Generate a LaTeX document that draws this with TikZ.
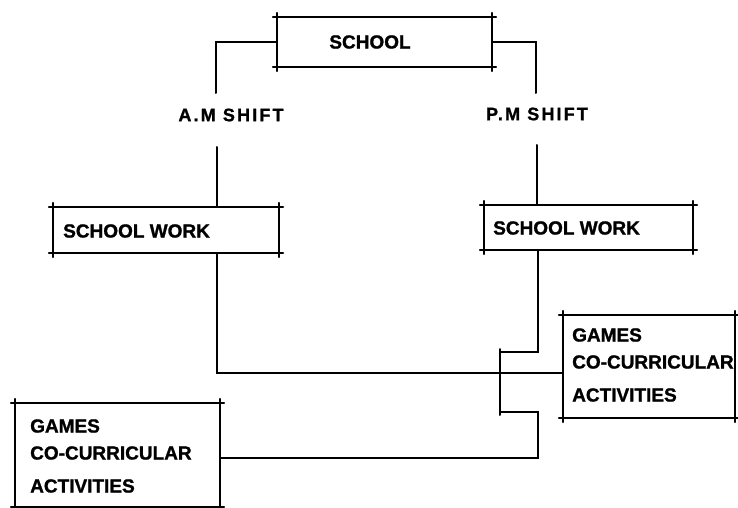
\documentclass[tikz,border=0pt]{standalone}
\usepackage{fontspec}
\setmainfont{Liberation Sans}[BoldFeatures={FakeBold=1.2}]
\newcommand\tickframe[1]{%
  \draw[edge] ([xshift=-4pt]#1.north west) -- ([xshift=4pt]#1.north east);
  \draw[edge] ([xshift=-4pt]#1.south west) -- ([xshift=4pt]#1.south east);
  \draw[edge] ([yshift=4pt]#1.north west) -- ([yshift=-4pt]#1.south west);
  \draw[edge] ([yshift=4pt]#1.north east) -- ([yshift=-4pt]#1.south east);
}
\begin{document}
\begin{tikzpicture}[x=1pt,y=-1pt,
  edge/.style={line width=2pt, line cap=round},
  over/.style={edge, shorten <=-3pt, shorten >=-3pt},
  frame/.style={rectangle, draw=none, inner sep=0pt},
  lbl/.style={font=\bfseries\fontsize{19}{27}\selectfont, inner sep=0pt, align=left},
  spaced/.style={font=\bfseries\fontsize{18}{22}\selectfont\addfontfeature{LetterSpace=12}, inner sep=0pt},
]
\useasboundingbox (0,0) rectangle (738,508);
\clip (0,0) rectangle (738,508);

% box outlines
\node[frame, minimum width=215pt, minimum height=50pt] (school) at (384.5,42) {};
\node[frame, minimum width=226pt, minimum height=46pt] (sw1) at (166,230) {};
\node[frame, minimum width=209pt, minimum height=45pt] (sw2) at (588.5,227.5) {};
\node[frame, minimum width=172pt, minimum height=103pt] (g1) at (649,366.5) {};
\node[frame, minimum width=205pt, minimum height=104pt] (g2) at (117.5,455) {};
\tickframe{school}
\tickframe{sw1}
\tickframe{sw2}
\tickframe{g1}
\tickframe{g2}

% box texts
\node[lbl] (tschool) at (370,42) {SCHOOL};
\node[lbl, anchor=west] (tsw1) at (63,231) {SCHOOL WORK};
\node[lbl, anchor=west] (tsw2) at (493,228) {SCHOOL WORK};
\node[lbl, anchor=west] (tg1) at (572,365) {GAMES\\CO-CURRICULAR\\[6pt]ACTIVITIES};
\node[lbl, anchor=west] (tg2) at (30,456) {GAMES\\CO-CURRICULAR\\[6pt]ACTIVITIES};

% shift labels
\node[spaced] (am) at (231,115) {A.M SHIFT};
\node[spaced] (pm) at (537,114) {P.M SHIFT};

% connectors from the school to the two shifts
\coordinate (amtop) at (216,93);
\coordinate (ambot) at (217,147);
\coordinate (pmtop) at (536,93);
\coordinate (pmbot) at (537,145);
\draw[edge] (school.west) -| (amtop);
\draw[edge] (ambot) -- (ambot |- sw1.north);
\draw[edge] (school.east) -| (pmtop);
\draw[edge] (pmbot) -- (pmbot |- sw2.north);

% A.M school work to games on the right
\coordinate (j1) at (217,373);
\draw[edge] (j1 |- sw1.south) -- (j1) -- (j1 -| g1.west);

% P.M school work to games on the left
\coordinate (k1) at (538,352);
\coordinate (k2) at (500,352);
\coordinate (k3) at (500,412);
\coordinate (k4) at (538,412);
\coordinate (k5) at (538,458);
\draw[edge] (k1 |- sw2.south) -- (k1) -- (k2);
\draw[over] (k2) -- (k3);
\draw[edge] (k3) -- (k4) -- (k5) -- (k5 -| g2.east);
\end{tikzpicture}
\end{document}
